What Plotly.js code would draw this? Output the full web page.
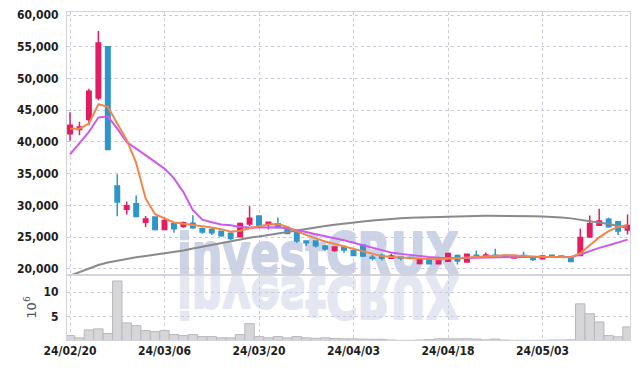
<!DOCTYPE html>
<html><head><meta charset="utf-8">
<script src="https://cdn.plot.ly/plotly-3.0.1.min.js"></script>
<style>
html,body{margin:0;padding:0;background:#fff;}
#wrap{position:relative;width:639px;height:369px;overflow:hidden;background:#fff;}
#wm{position:absolute;left:0;top:0;z-index:0;}
#chart{position:absolute;left:0;top:0;width:639px;height:369px;z-index:1;}
</style></head>
<body>
<div id="wrap">
<svg id="wm" width="639" height="369">
  <text x="177" y="274" textLength="282" lengthAdjust="spacingAndGlyphs" font-family="DejaVu Sans" font-weight="bold" font-size="57" fill="#cdd3e6" stroke="#cdd3e6" stroke-width="2" stroke-linejoin="round">investCRUX</text>
  <text x="177" y="274" textLength="282" lengthAdjust="spacingAndGlyphs" font-family="DejaVu Sans" font-weight="bold" font-size="57" fill="#e4e7f1" stroke="#e4e7f1" stroke-width="2" stroke-linejoin="round" transform="translate(0,551) scale(1,-1)">investCRUX</text>
</svg>
<div id="chart"></div>
</div>
<script>
// trading days (category labels)
const dates = ['24/02/20','24/02/21','24/02/22','24/02/23','24/02/26','24/02/27','24/02/28','24/02/29','24/03/04','24/03/05',
  '24/03/06','24/03/07','24/03/08','24/03/11','24/03/12','24/03/13','24/03/14','24/03/15','24/03/18','24/03/19',
  '24/03/20','24/03/21','24/03/22','24/03/25','24/03/26','24/03/27','24/03/28','24/03/29','24/04/01','24/04/02',
  '24/04/03','24/04/04','24/04/05','24/04/08','24/04/09','24/04/11','24/04/12','24/04/15','24/04/16','24/04/17',
  '24/04/18','24/04/19','24/04/22','24/04/23','24/04/24','24/04/25','24/04/26','24/04/29','24/04/30','24/05/02',
  '24/05/03','24/05/07','24/05/08','24/05/09','24/05/10','24/05/13','24/05/14','24/05/16','24/05/17','24/05/20'];
const tickLabels = ['24/02/20','24/03/06','24/03/20','24/04/03','24/04/18','24/05/03'];

const openP  = [41300,41950,43530,46950,55000,33050,29370,30260,27320,28160,26210,27100,26680,27200,26300,26200,25900,25600,25050,27050,
  28320,27050,27100,26530,25840,24370,24370,23600,22900,23500,22900,23740,21800,22150,21680,21850,21800,20850,21500,20800,
  21200,22100,21050,22150,21900,22150,22100,21700,22100,21900,21600,22150,22000,21900,22100,25000,26850,27800,27400,26100];
const highP  = [44700,43200,48400,57500,55000,34900,30600,31550,28320,28160,28050,27100,27470,28450,26500,26400,25950,25850,27300,29900,
  28320,27450,28100,26630,25840,24450,24400,23740,23500,23500,22950,23850,22160,22370,22370,21850,21950,21470,21500,21890,
  22500,22260,22280,22900,22550,23150,22100,22100,22700,21900,22000,22200,22000,21900,26320,28420,29450,28050,27400,28580];
const lowP   = [40200,41050,42630,46580,38800,28300,28580,28260,26580,26050,26210,25680,26470,26300,25530,25320,25050,24530,24950,26740,
  26530,26210,26530,25470,24110,23580,23370,22840,22680,22530,22000,21840,21320,21320,21630,21320,21450,20680,20680,20680,
  21100,20680,21050,21740,21900,22000,21800,21680,21840,21210,21580,21800,21700,21050,22000,25000,26740,26470,25320,25420];
const closeP = [42630,42370,48000,55630,38800,30530,29950,28260,27840,26210,27630,26320,27260,26470,25800,25680,25210,24790,27160,27950,
  26630,27350,26530,25580,24370,24100,23630,23110,23420,22950,22110,22000,21650,21650,22000,21650,21680,21420,20800,21380,
  22400,21210,22280,22100,22160,22050,21850,22100,22000,21470,22000,21850,21800,21160,24950,27160,27530,26630,25950,26840];
const ma5  = [42100,42100,42900,45950,45530,43000,40300,36700,31100,28600,27900,27300,27100,26950,26700,26500,26250,25850,26000,26400,
  26700,27000,27050,26600,25900,25300,24800,24300,23900,23500,23150,22700,22300,22000,21850,21750,21700,21600,21550,21500,
  21600,21700,21750,21850,21950,22100,22150,22100,22000,21900,21850,21850,21850,21800,22450,23650,24950,25950,26600,26900];
const ma10 = [38050,39750,41600,43850,44050,42100,40000,38950,37900,36850,35800,34250,32100,29250,27750,27350,27000,26850,26600,26500,
  26500,26550,26550,26350,26100,25800,25450,25150,24900,24500,24100,23700,23250,22850,22550,22350,22150,21950,21850,21750,
  21700,21700,21700,21750,21800,21850,21850,21850,21850,21850,21800,21850,21850,21850,22250,22800,23300,23700,24100,24600];
const ma60 = [18900,19500,20100,20600,21000,21300,21550,21800,22000,22200,22400,22600,22900,23200,23500,23800,24100,24400,24650,24900,
  25100,25350,25600,25850,26100,26350,26550,26750,26950,27150,27300,27450,27600,27750,27850,27950,28050,28100,28200,28250,
  28280,28300,28320,28340,28350,28350,28340,28320,28300,28270,28230,28180,28100,27950,27750,27550,27300,27050,26750,26450];
const volume = [1.25,0.8,2.4,2.6,1.65,12.25,3.8,3.25,2.25,2.05,2.25,1.45,1.25,1.45,1.05,1.05,0.8,0.8,1.45,3.65,
  1.05,0.8,1.05,0.8,1.05,0.8,0.7,0.8,0.65,0.6,0.6,0.55,0.5,0.5,0.35,0.3,0.3,0.35,0.45,0.6,
  0.6,0.6,0.6,0.55,0.4,0.55,0.35,0.3,0.3,0.3,0.3,0.35,0.35,0.4,7.65,5.65,4.0,1.25,1.0,3.0];
const priceTicks = [20000,25000,30000,35000,40000,45000,50000,55000,60000];
const volTicks = [5,10];

const RED = '#e31c64', BLUE = '#2e96c9';
const GRID = '#c8cbdd', BORDER = '#d3d4dc';
const tickFont = {family:'DejaVu Sans Condensed, DejaVu Sans, sans-serif', size:12, color:'#1e1e1e', weight:'bold'};

const traces = [
  {type:'candlestick', x:dates, open:openP, high:highP, low:lowP, close:closeP, xaxis:'x', yaxis:'y',
   increasing:{line:{color:RED,width:1.5}, fillcolor:RED},
   decreasing:{line:{color:BLUE,width:1.5}, fillcolor:BLUE},
   whiskerwidth:0, hoverinfo:'skip'},
  {type:'scatter', mode:'lines', x:dates, y:ma60, xaxis:'x', yaxis:'y', line:{color:'#8a8a8a', width:2}, hoverinfo:'skip'},
  {type:'scatter', mode:'lines', x:dates, y:ma10, xaxis:'x', yaxis:'y', line:{color:'#cc5aec', width:2}, hoverinfo:'skip'},
  {type:'scatter', mode:'lines', x:dates, y:ma5, xaxis:'x', yaxis:'y', line:{color:'#ef874a', width:2}, hoverinfo:'skip'},
  {type:'bar', x:dates, y:volume, xaxis:'x2', yaxis:'y2', marker:{color:'#d6d6d8', line:{color:'#b9b9bd', width:1}}, hoverinfo:'skip'}
];

const xCommon = {type:'category', range:[-0.32,59.26], showgrid:true, gridcolor:GRID, griddash:'dot', gridwidth:1,
  showline:true, linecolor:BORDER, linewidth:1, mirror:true, ticks:'', zeroline:false,
  tickmode:'array', tickvals:tickLabels, ticktext:tickLabels, tickfont:tickFont, fixedrange:true};

const layout = {
  width:639, height:369,
  margin:{l:67, r:9, t:12, b:29},
  paper_bgcolor:'rgba(0,0,0,0)', plot_bgcolor:'rgba(0,0,0,0)',
  showlegend:false, boxgap:0.33, bargap:0,
  xaxis:Object.assign({}, xCommon, {anchor:'y', showticklabels:false, rangeslider:{visible:false}}),
  xaxis2:Object.assign({}, xCommon, {anchor:'y2', matches:'x'}),
  yaxis:{domain:[0.1982,1], range:[19020,60500], tickmode:'array', tickvals:priceTicks, tickformat:',d',
    showgrid:true, gridcolor:GRID, griddash:'dot', showline:true, linecolor:BORDER, mirror:true, ticks:'',
    zeroline:false, tickfont:tickFont, ticklabelstandoff:5, fixedrange:true},
  yaxis2:{domain:[0,0.1982], range:[0.36,13.46], tickmode:'array', tickvals:volTicks,
    showgrid:true, gridcolor:GRID, griddash:'dot', showline:true, linecolor:BORDER, mirror:true, ticks:'',
    zeroline:false, tickfont:tickFont, ticklabelstandoff:5, fixedrange:true,
    title:{text:'10<sup>6</sup>', font:{family:'DejaVu Sans, sans-serif', size:13, color:'#555'}, standoff:4}}
};

Plotly.newPlot('chart', traces, layout, {displayModeBar:false, staticPlot:true});
</script>
</body></html>
